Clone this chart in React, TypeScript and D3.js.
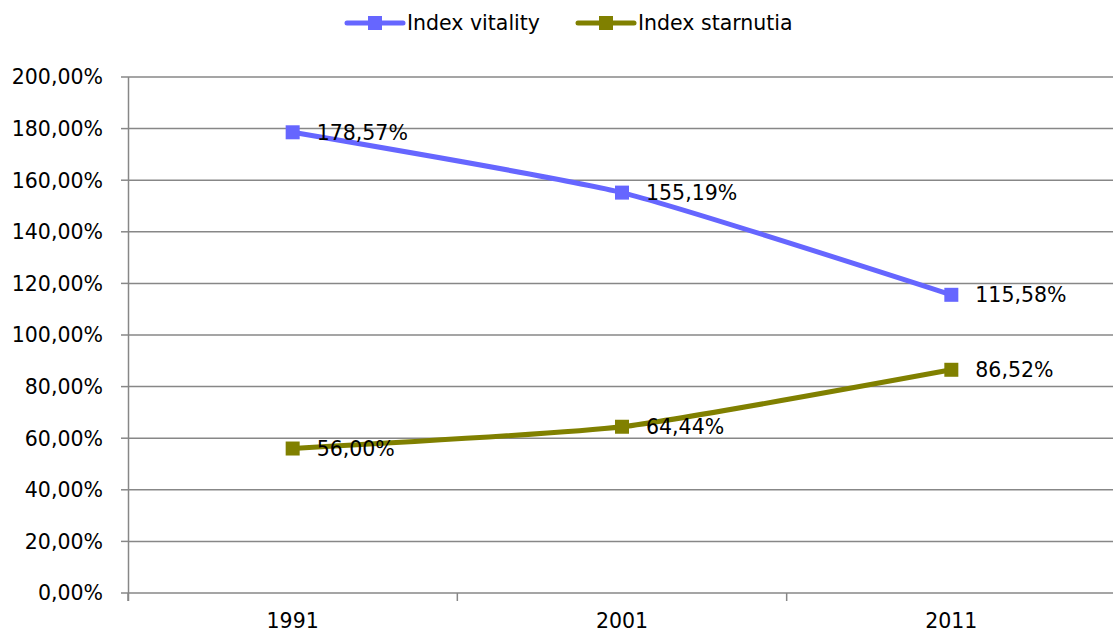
import React from "react";
import * as d3 from "d3";

const years = ["1991", "2001", "2011"];
const vitality = [178.57, 155.19, 115.58];
const starnutia = [56.0, 64.44, 86.52];
const yTicks = [0, 20, 40, 60, 80, 100, 120, 140, 160, 180, 200];
const seriesNames = ["Index vitality", "Index starnutia"];
const seriesColors = ["#6666FF", "#808000"];

const W = 1113;
const H = 635;
const FONT = "'DejaVu Sans', sans-serif";
const FS = 20.5;

const fmt = (v: number) => v.toFixed(2).replace(".", ",") + "%";

export default function App() {
  const x = d3.scaleBand<string>().domain(years).range([128, 1116]).padding(0);
  const y = d3.scaleLinear().domain([0, 200]).range([593, 77]);
  const cx = (yr: string) => (x(yr) as number) + x.bandwidth() / 2;
  const line = d3
    .line<number>()
    .x((_, i) => cx(years[i]))
    .y((d) => y(d))
    .curve(d3.curveCardinal.tension(0.5));
  const series = [vitality, starnutia];
  const bounds = [...years.map((yr) => x(yr) as number), 1116];
  const legendX = [347, 578];

  return (
    <svg
      width={W}
      height={H}
      style={{ position: "absolute", left: 0, top: 0, display: "block", background: "#fff" }}
      fontFamily={FONT}
    >
      {yTicks.map((t) => (
        <line key={"g" + t} x1={128} x2={W} y1={y(t)} y2={y(t)} stroke="#878787" strokeWidth={1.5} />
      ))}
      <line x1={128.5} x2={128.5} y1={y(200)} y2={y(0) + 8} stroke="#878787" strokeWidth={1.5} />
      {yTicks.map((t) => (
        <g key={"yt" + t}>
          <line x1={121} x2={128} y1={y(t)} y2={y(t)} stroke="#878787" strokeWidth={1.5} />
          <text x={103} y={y(t)} dy="0.36em" textAnchor="end" fontSize={FS} fill="#000">
            {fmt(t)}
          </text>
        </g>
      ))}
      {bounds.map((b, i) => (
        <line key={"xt" + i} x1={b} x2={b} y1={y(0)} y2={y(0) + 8} stroke="#878787" strokeWidth={1.5} />
      ))}
      {years.map((yr) => (
        <text key={"xl" + yr} x={cx(yr)} y={628} textAnchor="middle" fontSize={FS} fill="#000">
          {yr}
        </text>
      ))}
      {series.map((s, si) => (
        <path key={"l" + si} d={line(s) || ""} fill="none" stroke={seriesColors[si]} strokeWidth={5} strokeLinejoin="round" />
      ))}
      {series.map((s, si) =>
        s.map((v, i) => (
          <rect key={"m" + si + i} x={cx(years[i]) - 7} y={y(v) - 7} width={14} height={14} fill={seriesColors[si]} />
        ))
      )}
      {series.map((s, si) =>
        s.map((v, i) => (
          <text key={"d" + si + i} x={cx(years[i]) + 24} y={y(v)} dy="0.36em" fontSize={FS} fill="#000">
            {fmt(v)}
          </text>
        ))
      )}
      {seriesNames.map((n, i) => (
        <g key={"lg" + i}>
          <line x1={legendX[i]} x2={legendX[i] + 56} y1={23} y2={23} stroke={seriesColors[i]} strokeWidth={5} strokeLinecap="round" />
          <rect x={legendX[i] + 21} y={16} width={14} height={14} fill={seriesColors[i]} />
          <text x={legendX[i] + 60} y={23} dy="0.36em" fontSize={FS} fill="#000">
            {n}
          </text>
        </g>
      ))}
    </svg>
  );
}
